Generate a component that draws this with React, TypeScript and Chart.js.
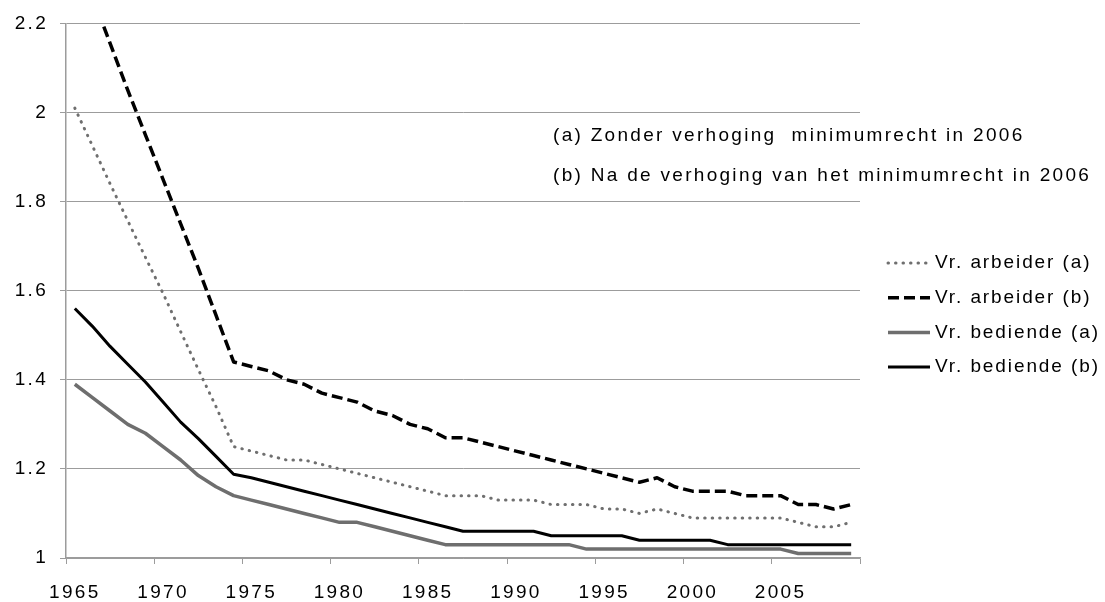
import React, { useEffect, useRef } from 'react';
import { Chart, registerables } from 'chart.js';

Chart.register(...registerables);

const years = [
  1965, 1966, 1967, 1968, 1969, 1970, 1971, 1972, 1973, 1974,
  1975, 1976, 1977, 1978, 1979, 1980, 1981, 1982, 1983, 1984,
  1985, 1986, 1987, 1988, 1989, 1990, 1991, 1992, 1993, 1994,
  1995, 1996, 1997, 1998, 1999, 2000, 2001, 2002, 2003, 2004,
  2005, 2006, 2007, 2008, 2009,
];

const xTickLabels = ['1965', '1970', '1975', '1980', '1985', '1990', '1995', '2000', '2005'];
const yTicks = [1, 1.2, 1.4, 1.6, 1.8, 2, 2.2];

const arbeiderA = [
  2.01, 1.925, 1.84, 1.757, 1.675, 1.594, 1.508, 1.423, 1.34, 1.25,
  1.24, 1.23, 1.22, 1.22, 1.21, 1.2, 1.19, 1.18, 1.17, 1.16,
  1.15, 1.14, 1.14, 1.14, 1.13, 1.13, 1.13, 1.12, 1.12, 1.12,
  1.11, 1.11, 1.1, 1.11, 1.1, 1.09, 1.09, 1.09, 1.09, 1.09,
  1.09, 1.08, 1.07, 1.07, 1.08,
];

const arbeiderB = [
  2.36, 2.26, 2.155, 2.05, 1.95, 1.85, 1.75, 1.65, 1.545, 1.44,
  1.43, 1.42, 1.4, 1.39, 1.37, 1.36, 1.35, 1.33, 1.32, 1.3,
  1.29, 1.27, 1.27, 1.26, 1.25, 1.24, 1.23, 1.22, 1.21, 1.2,
  1.19, 1.18, 1.17, 1.18, 1.16, 1.15, 1.15, 1.15, 1.14, 1.14,
  1.14, 1.12, 1.12, 1.11, 1.12,
];

const bediendeA = [
  1.39, 1.36, 1.33, 1.3, 1.28, 1.25, 1.22, 1.185, 1.16, 1.14,
  1.13, 1.12, 1.11, 1.1, 1.09, 1.08, 1.08, 1.07, 1.06, 1.05,
  1.04, 1.03, 1.03, 1.03, 1.03, 1.03, 1.03, 1.03, 1.03, 1.02,
  1.02, 1.02, 1.02, 1.02, 1.02, 1.02, 1.02, 1.02, 1.02, 1.02,
  1.02, 1.01, 1.01, 1.01, 1.01,
];

const bediendeB = [
  1.56, 1.52, 1.475, 1.435, 1.395, 1.35, 1.305, 1.268, 1.228, 1.188,
  1.18, 1.17, 1.16, 1.15, 1.14, 1.13, 1.12, 1.11, 1.1, 1.09,
  1.08, 1.07, 1.06, 1.06, 1.06, 1.06, 1.06, 1.05, 1.05, 1.05,
  1.05, 1.05, 1.04, 1.04, 1.04, 1.04, 1.04, 1.03, 1.03, 1.03,
  1.03, 1.03, 1.03, 1.03, 1.03,
];

const seriesLabels = ['Vr. arbeider (a)', 'Vr. arbeider (b)', 'Vr. bediende (a)', 'Vr. bediende (b)'];
const annotations = [
  '(a) Zonder verhoging  minimumrecht in 2006',
  '(b) Na de verhoging van het minimumrecht in 2006',
];

const FONT = "'Liberation Sans', Arial, sans-serif";
const TEXT = '#000000';
const GRID = '#9c9c9c';
const LS = '2.3px';

const spacingPlugin = {
  id: 'spacing',
  beforeUpdate(chart: any) {
    chart.ctx.letterSpacing = LS;
  },
  beforeDraw(chart: any) {
    chart.ctx.letterSpacing = LS;
  },
};

const overlayPlugin = {
  id: 'overlay',
  afterDraw(chart: any) {
    const ctx = chart.ctx;
    ctx.save();
    ctx.letterSpacing = LS;
    ctx.font = `19px ${FONT}`;
    ctx.fillStyle = TEXT;
    ctx.textBaseline = 'middle';
    ctx.textAlign = 'left';
    annotations.forEach((t, i) => ctx.fillText(t, 553, 136 + i * 40));
    ctx.letterSpacing = '1.9px';
    chart.data.datasets.forEach((ds: any, i: number) => {
      const y = 263 + i * 34.7;
      ctx.save();
      ctx.beginPath();
      ctx.setLineDash(ds.borderDash || []);
      ctx.lineWidth = ds.borderWidth;
      ctx.strokeStyle = ds.borderColor;
      ctx.lineCap = ds.borderCapStyle || 'butt';
      ctx.moveTo(888, y);
      ctx.lineTo(930, y);
      ctx.stroke();
      ctx.restore();
      ctx.fillStyle = TEXT;
      ctx.fillText(ds.label, 935, y);
    });
    ctx.restore();
  },
};

export default function App() {
  const ref = useRef<HTMLCanvasElement | null>(null);

  useEffect(() => {
    document.body.style.margin = '0';
    const canvas = ref.current;
    if (!canvas) return;
    const chart = new Chart(canvas, {
      type: 'line',
      data: {
        labels: years.map(String),
        datasets: [
          {
            label: seriesLabels[0],
            data: arbeiderA,
            borderColor: '#6f6f6f',
            borderWidth: 3,
            borderDash: [0.5, 7],
            borderCapStyle: 'round',
            borderJoinStyle: 'round',
            pointRadius: 0,
            order: 4,
          },
          {
            label: seriesLabels[1],
            data: arbeiderB,
            borderColor: '#000000',
            borderWidth: 3.5,
            borderDash: [11, 5],
            borderCapStyle: 'butt',
            borderJoinStyle: 'round',
            pointRadius: 0,
            order: 3,
          },
          {
            label: seriesLabels[2],
            data: bediendeA,
            borderColor: '#6e6e6e',
            borderWidth: 3.5,
            borderJoinStyle: 'round',
            pointRadius: 0,
            order: 2,
          },
          {
            label: seriesLabels[3],
            data: bediendeB,
            borderColor: '#000000',
            borderWidth: 3,
            borderJoinStyle: 'round',
            pointRadius: 0,
            order: 1,
          },
        ],
      },
      options: {
        animation: false,
        responsive: false,
        maintainAspectRatio: false,
        events: [],
        layout: { padding: { top: 23, right: 245, left: 0, bottom: 0 } },
        elements: { line: { tension: 0 }, point: { radius: 0 } },
        plugins: {
          legend: { display: false },
          tooltip: { enabled: false },
          title: { display: false },
        },
        scales: {
          x: {
            type: 'category',
            offset: true,
            grid: {
              offset: true,
              drawOnChartArea: false,
              drawTicks: true,
              tickLength: 6,
              tickWidth: 1,
              tickColor: (c: any) =>
                c.index === undefined || c.index % 5 === 0 ? GRID : 'rgba(0,0,0,0)',
            },
            border: { display: true, color: GRID, width: 1.5 },
            ticks: {
              autoSkip: false,
              maxRotation: 0,
              minRotation: 0,
              padding: 17,
              color: TEXT,
              font: { family: FONT, size: 19 },
              callback: (_v: any, i: number) => {
                const s = String(years[i]);
                return xTickLabels.includes(s) ? s : '';
              },
            },
            afterFit: (s: any) => {
              s.height = 44;
            },
          },
          y: {
            min: 1,
            max: 2.2,
            afterBuildTicks: (s: any) => {
              s.ticks = yTicks.map((v) => ({ value: v }));
            },
            grid: {
              color: GRID,
              lineWidth: 1,
              drawTicks: true,
              tickLength: 6,
            },
            border: { display: true, color: GRID, width: 1.5 },
            ticks: {
              padding: 12,
              color: TEXT,
              font: { family: FONT, size: 19 },
              callback: (v: any) => String(Math.round(Number(v) * 10) / 10),
            },
            afterFit: (s: any) => {
              s.width = 66;
            },
          },
        },
      },
      plugins: [spacingPlugin, overlayPlugin],
    } as any);
    return () => chart.destroy();
  }, []);

  return (
    <div style={{ width: 1105, height: 602, background: '#fff' }}>
      <canvas ref={ref} width={1105} height={602} style={{ display: 'block', width: 1105, height: 602 }} />
    </div>
  );
}
